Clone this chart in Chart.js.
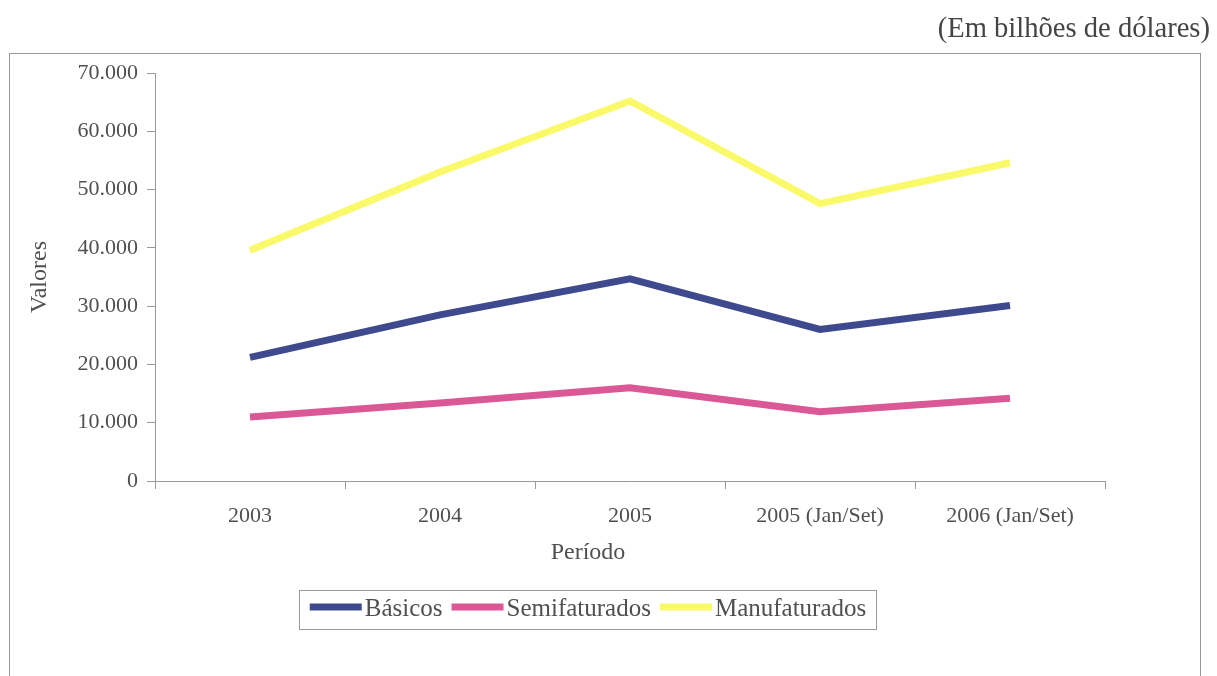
<!DOCTYPE html>
<html lang="pt">
<head>
<meta charset="utf-8">
<title>Exportações por fator agregado</title>
<script src="https://cdn.jsdelivr.net/npm/chart.js@4/dist/chart.umd.min.js"></script>
<style>
  html, body { margin: 0; padding: 0; background: #ffffff; }
  #wrap { position: relative; width: 1217px; height: 676px; }
  canvas { display: block; }
</style>
</head>
<body>
<div id="wrap"><canvas id="chart" width="1217" height="676"></canvas></div>
<script>
// Períodos e valores exportados (US$ milhões)
const categories = ['2003', '2004', '2005', '2005 (Jan/Set)', '2006 (Jan/Set)'];
const basicos = [21200, 28500, 34700, 26000, 30100];
const semifaturados = [11000, 13400, 16000, 11900, 14200];
const manufaturados = [39600, 53000, 65200, 47600, 54600];
const yTicks = [0, 10000, 20000, 30000, 40000, 50000, 60000, 70000];

const seriesNames = ['Básicos', 'Semifaturados', 'Manufaturados'];
const seriesColors = ['#3E4A8D', '#DA5896', '#F9F96A'];

const FONT = '"Liberation Serif", "Times New Roman", serif';
const TEXT = '#505050';
const AXIS = '#9a9a9a';

function fmt(v) {
  if (v === 0) return '0';
  return String(v).replace(/\B(?=(\d{3})+(?!\d))/g, '.');
}

// Moldura, unidade, título do eixo X e legenda em caixa
const decor = {
  id: 'decor',
  beforeDraw(chart) {
    const ctx = chart.ctx;
    ctx.save();
    ctx.strokeStyle = AXIS;
    ctx.lineWidth = 1;
    ctx.strokeRect(9.5, 53.5, 1191, 640);
    ctx.fillStyle = '#454545';
    ctx.font = '28.6px ' + FONT;
    ctx.textAlign = 'right';
    ctx.textBaseline = 'middle';
    ctx.fillText('(Em bilhões de dólares)', 1210, 29);
    ctx.restore();
  },
  afterDraw(chart) {
    const ctx = chart.ctx;
    const ds = chart.data.datasets;
    const boxL = 299.5, boxR = 876.5, boxT = 590.5, boxB = 629.5;
    const mid = (boxL + boxR) / 2;
    ctx.save();
    // título do eixo X, alinhado com a legenda
    ctx.fillStyle = TEXT;
    ctx.font = '24px ' + FONT;
    ctx.textAlign = 'center';
    ctx.textBaseline = 'middle';
    ctx.fillText('Período', mid, 553);

    ctx.font = '25px ' + FONT;
    const sampleW = 52, gapIn = 3, gapOut = 9;
    const widths = ds.map(d => ctx.measureText(d.label).width);
    let total = 0;
    widths.forEach((w, i) => { total += sampleW + gapIn + w + (i ? gapOut : 0); });
    ctx.strokeStyle = AXIS;
    ctx.lineWidth = 1;
    ctx.strokeRect(boxL, boxT, boxR - boxL, boxB - boxT);
    const cy = 609;
    let x = mid - total / 2;
    ds.forEach((d, i) => {
      if (i) x += gapOut;
      ctx.strokeStyle = d.borderColor;
      ctx.lineWidth = 7;
      ctx.lineCap = 'butt';
      ctx.beginPath();
      ctx.moveTo(x, cy - 2);
      ctx.lineTo(x + sampleW, cy - 2);
      ctx.stroke();
      x += sampleW + gapIn;
      ctx.fillStyle = TEXT;
      ctx.textAlign = 'left';
      ctx.textBaseline = 'middle';
      ctx.fillText(d.label, x, cy);
      x += widths[i];
    });
    ctx.restore();
  }
};

const seriesData = [basicos, semifaturados, manufaturados];

new Chart(document.getElementById('chart'), {
  type: 'line',
  data: {
    labels: categories,
    datasets: seriesData.map((vals, i) => ({
      label: seriesNames[i],
      data: vals,
      borderColor: seriesColors[i],
      backgroundColor: seriesColors[i],
      borderWidth: 7,
      pointRadius: 0,
      pointHoverRadius: 0,
      tension: 0,
      borderJoinStyle: 'miter',
      borderCapStyle: 'butt',
      fill: false
    }))
  },
  options: {
    responsive: false,
    animation: false,
    events: [],
    layout: { padding: { left: 0, right: 112, top: 73, bottom: 95 } },
    plugins: {
      legend: { display: false },
      title: { display: false },
      tooltip: { enabled: false }
    },
    scales: {
      x: {
        offset: true,
        grid: {
          offset: true,
          drawOnChartArea: false,
          drawTicks: true,
          tickLength: 8,
          color: AXIS
        },
        border: { display: true, color: AXIS, width: 1 },
        ticks: {
          color: TEXT,
          font: { family: FONT, size: 22 },
          padding: 14,
          maxRotation: 0,
          autoSkip: false
        },
        title: { display: false },
        afterFit(scale) { scale.height = 100; }
      },
      y: {
        min: 0,
        max: 70000,
        afterBuildTicks(scale) { scale.ticks = yTicks.map(v => ({ value: v })); },
        grid: {
          drawOnChartArea: false,
          drawTicks: true,
          tickLength: 8,
          color: AXIS
        },
        border: { display: true, color: AXIS, width: 1 },
        ticks: {
          color: TEXT,
          font: { family: FONT, size: 22 },
          padding: 9,
          callback: v => fmt(v)
        },
        title: {
          display: true,
          text: 'Valores',
          color: TEXT,
          font: { family: FONT, size: 24 },
          padding: { top: 25, bottom: 0 }
        },
        afterFit(scale) { scale.width = 155; }
      }
    }
  },
  plugins: [decor]
});
</script>
</body>
</html>
